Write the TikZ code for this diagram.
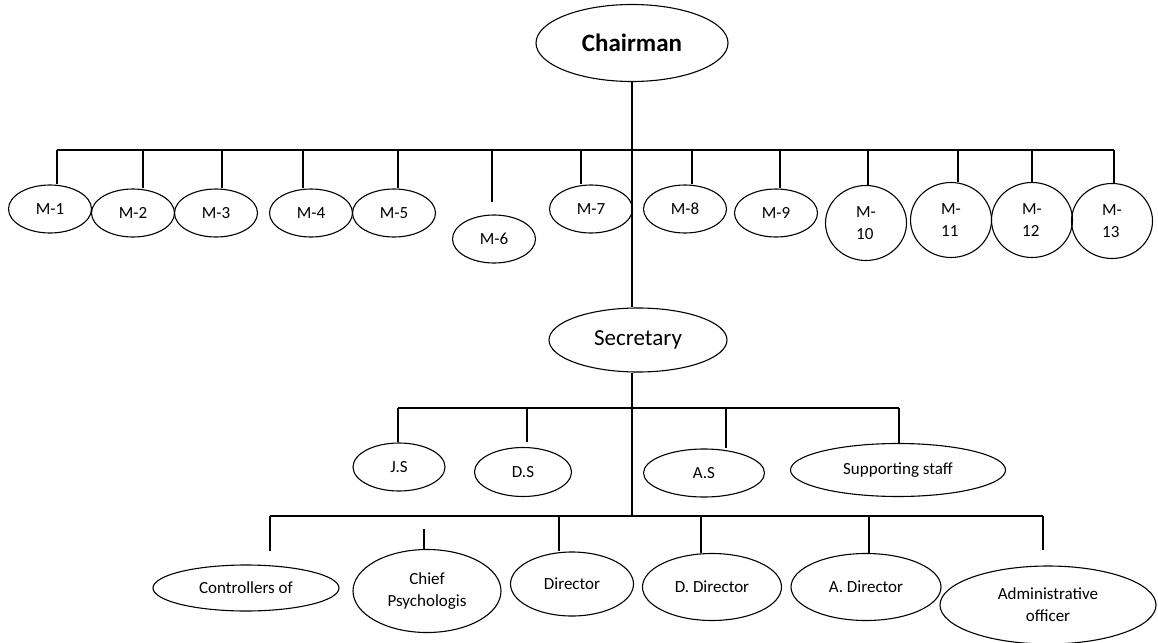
\documentclass[tikz,border=0pt]{standalone}
\usepackage{fontspec}
\setmainfont{Carlito}
\usepackage{tikz}
\usetikzlibrary{shapes.geometric}

\begin{document}
\begin{tikzpicture}[x=1pt,y=-1pt,
  post/.style={ellipse, draw, line width=1.1pt, inner sep=0pt, align=center,
    font=\fontsize{17}{22}\selectfont},
  mem/.style={post, minimum width=83pt, minimum height=48pt},
  memtall/.style={post, minimum width=81pt, minimum height=75pt, align=left},
  wire/.style={line width=1.4pt}]
\useasboundingbox (0,0) rectangle (1158,642);
\def\TopBar{150}
\def\MidBar{408}
\def\LowBar{516}

\node[post, minimum width=192pt, minimum height=77pt,
  font=\fontsize{25}{30}\selectfont\bfseries] (chairman) at (632,43) {Chairman};

% members
\node[mem] (m1) at (50,209) {M-1};
\node[mem] (m2) at (133,213) {M-2};
\node[mem] (m3) at (216,213) {M-3};
\node[mem] (m4) at (311,213) {M-4};
\node[mem] (m5) at (394,213) {M-5};
\node[mem] (m6) at (494,239) {M-6};
\node[mem] (m7) at (591,209) {M-7};
\node[mem] (m8) at (685,209) {M-8};
\node[mem] (m9) at (776,213) {M-9};
\node[memtall] (m10) at (866,223) {M-\\10};
\node[memtall] (m11) at (951,220) {M-\\11};
\node[memtall] (m12) at (1032,220) {M-\\12};
\node[memtall] (m13) at (1112,221) {M-\\13};

\path
  (57,\TopBar) coordinate (t1)
  (143,\TopBar) coordinate (t2)
  (222,\TopBar) coordinate (t3)
  (303,\TopBar) coordinate (t4)
  (398,\TopBar) coordinate (t5)
  (492,\TopBar) coordinate (t6)
  (581,\TopBar) coordinate (t7)
  (692,\TopBar) coordinate (t8)
  (780,\TopBar) coordinate (t9)
  (868,\TopBar) coordinate (t10)
  (958,\TopBar) coordinate (t11)
  (1032,\TopBar) coordinate (t12)
  (1114,\TopBar) coordinate (t13)
;
\draw[wire] (t1) -- (t13);
\draw[wire] (t1) -- (t1 |- m1.north);
\draw[wire] (t2) -- (t2 |- m2.north);
\draw[wire] (t3) -- (t3 |- m3.north);
\draw[wire] (t4) -- (t4 |- m4.north);
\draw[wire] (t5) -- (t5 |- m5.north);
\draw[wire, shorten >=12pt] (t6) -- (t6 |- m6.north);
\draw[wire] (t7) -- (t7 |- m7.north);
\draw[wire] (t8) -- (t8 |- m8.north);
\draw[wire] (t9) -- (t9 |- m9.north);
\draw[wire] (t10) -- (t10 |- m10.north);
\draw[wire] (t11) -- (t11 |- m11.north);
\draw[wire] (t12) -- (t12 |- m12.north);
\draw[wire] (t13) -- (t13 |- m13.north);

\node[post, minimum width=178pt, minimum height=64pt,
  font=\fontsize{23}{28}\selectfont] (secretary) at (638,340) {Secretary};
\draw[wire] (chairman.south) -- (chairman.south |- secretary.north);

% under the secretary
\node[post, minimum width=92pt, minimum height=48pt] (js) at (399,467) {J.S};
\node[post, minimum width=97pt, minimum height=49pt] (ds) at (523,472) {D.S};
\node[post, minimum width=121pt, minimum height=48pt] (as) at (704,473) {A.S};
\node[post, minimum width=215pt, minimum height=53pt] (staff) at (898,470) {Supporting staff};

\path
  (398,\MidBar) coordinate (s1)
  (527,\MidBar) coordinate (s2)
  (726,\MidBar) coordinate (s3)
  (899,\MidBar) coordinate (s4)
;
\draw[wire] (s1) -- (s4);
\draw[wire] (s1) -- (s1 |- js.north);
\draw[wire, shorten >=5pt] (s2) -- (s2 |- ds.north);
\draw[wire] (s3) -- (s3 |- as.north);
\draw[wire] (s4) -- (s4 |- staff.north);

\node[post, minimum width=186pt, minimum height=46pt] (ctrl) at (246,588) {Controllers of};
\node[post, minimum width=148pt, minimum height=83pt] (chief) at (427,591) {Chief\\Psychologis};
\node[post, minimum width=123pt, minimum height=64pt] (dir) at (572,584) {Director};
\node[post, minimum width=139pt, minimum height=67pt] (ddir) at (712,587) {D. Director};
\node[post, minimum width=150pt, minimum height=67pt] (adir) at (866,587) {A. Director};
\node[post, minimum width=216pt, minimum height=78pt] (admin) at (1048,605) {Administrative\\officer};

\path
  (270,\LowBar) coordinate (b1)
  (424,\LowBar) coordinate (b2)
  (559,\LowBar) coordinate (b3)
  (632,\LowBar) coordinate (trunk)
  (701,\LowBar) coordinate (b4)
  (869,\LowBar) coordinate (b5)
  (1043,\LowBar) coordinate (b6)
;
\draw[wire] (secretary.south -| trunk) -- (trunk);
\draw[wire] (b1) -- (b6);
\draw[wire, shorten >=13pt] (b1) -- (b1 |- ctrl.north);
\draw[wire, shorten <=13pt] (b2) -- (b2 |- chief.north);
\draw[wire] (b3) -- (b3 |- dir.north);
\draw[wire] (b4) -- (b4 |- ddir.north);
\draw[wire] (b5) -- (b5 |- adir.north);
\draw[wire, shorten >=15pt] (b6) -- (b6 |- admin.north);

%\draw[wire] (chairman.south) -- (trunk);
\end{tikzpicture}
\end{document}
